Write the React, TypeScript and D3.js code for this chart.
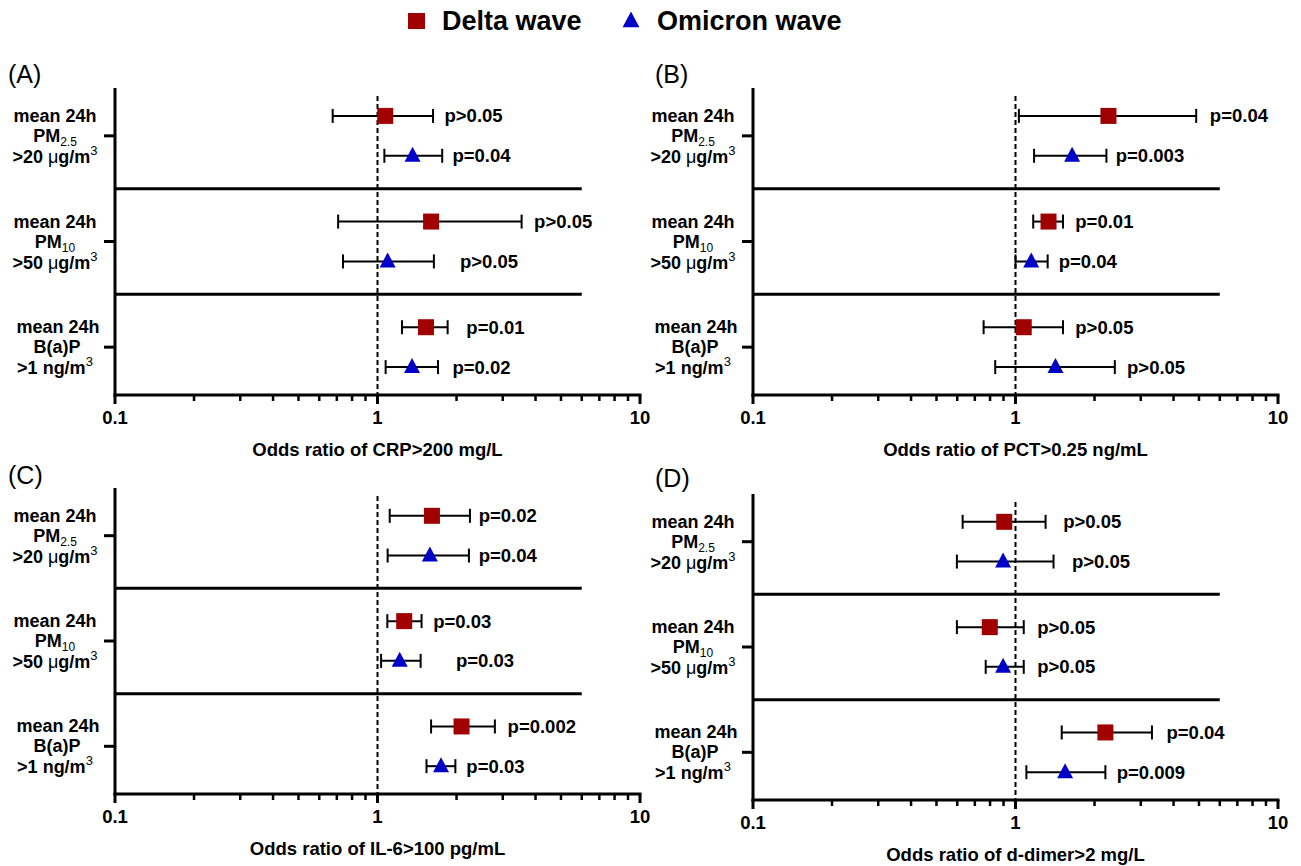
import React from "react";
import * as d3 from "d3";

// ---------- data ----------
const panelLetters = ["(A)", "(B)", "(C)", "(D)"];
const axisTitles = [
  "Odds ratio of CRP>200 mg/L",
  "Odds ratio of PCT>0.25 ng/mL",
  "Odds ratio of IL-6>100 pg/mL",
  "Odds ratio of d-dimer>2 mg/L",
];
const seriesNames = ["Delta wave", "Omicron wave"];
const xTickValues = [0.1, 1, 10];
const xTickLabels = ["0.1", "1", "10"];
const xMinorTicks = [0.2, 0.3, 0.4, 0.5, 0.6, 0.7, 0.8, 0.9, 2, 3, 4, 5, 6, 7, 8, 9];
const dividerEnd = 6;

// per panel, per exposure group (PM2.5, PM10, B(a)P)
const deltaOR = [[1.07, 1.6, 1.53], [2.26, 1.336, 1.075], [1.612, 1.264, 2.09], [0.906, 0.798, 2.2]];
const deltaLo = [[0.675, 0.708, 1.24], [1.03, 1.168, 0.756], [1.113, 1.09, 1.6], [0.629, 0.598, 1.5]];
const deltaHi = [[1.628, 3.54, 1.85], [4.88, 1.517, 1.517], [2.25, 1.472, 2.8], [1.302, 1.075, 3.31]];
const deltaP = [
  ["p>0.05", "p>0.05", "p=0.01"],
  ["p=0.04", "p=0.01", "p>0.05"],
  ["p=0.02", "p=0.03", "p=0.002"],
  ["p>0.05", "p>0.05", "p=0.04"],
];
const deltaPAt = [[1.8, 3.95, 2.18], [5.5, 1.69, 1.69], [2.43, 1.63, 3.13], [1.52, 1.21, 3.76]];

const omicronOR = [[1.36, 1.093, 1.354], [1.643, 1.148, 1.42], [1.583, 1.215, 1.746], [0.897, 0.897, 1.545]];
const omicronLo = [[1.062, 0.739, 1.074], [1.177, 1.0, 0.837], [1.093, 1.032, 1.537], [0.598, 0.77, 1.1]];
const omicronHi = [[1.764, 1.64, 1.7], [2.22, 1.326, 2.39], [2.23, 1.46, 1.98], [1.396, 1.075, 2.2]];
const omicronP = [
  ["p=0.04", "p>0.05", "p=0.02"],
  ["p=0.003", "p=0.04", "p>0.05"],
  ["p=0.04", "p=0.03", "p=0.03"],
  ["p>0.05", "p>0.05", "p=0.009"],
];
const omicronPAt = [[1.93, 2.06, 1.93], [2.41, 1.46, 2.66], [2.43, 1.99, 2.18], [1.64, 1.21, 2.43]];

// ---------- layout ----------
const W = 1301;
const H = 866;
const FONT = "'Liberation Sans', Arial, Helvetica, sans-serif";
const RED = "#a00000";
const BLUE = "#0000c8";
const panelBoxes = [
  { x0: 115, top: 88, bottom: 395, labelY: 83 },
  { x0: 753, top: 88, bottom: 395, labelY: 83 },
  { x0: 115, top: 488, bottom: 794, labelY: 484 },
  { x0: 753, top: 494, bottom: 800, labelY: 487 },
];
const AXIS_W = 525;
const GROUP_STEP = 2.65;
const TRI = "M0,-9L8,6L-8,6Z";

function GroupLabel({ g, cx, cy }: { g: number; cx: number; cy: number }) {
  const common = { textAnchor: "middle" as const, fontFamily: FONT, fontSize: 18, fontWeight: 700, fill: "#000" };
  const l1 = cy - 14;
  const l2 = cy + 6;
  const l3 = cy + 27;
  let line2: React.ReactNode;
  let line3: React.ReactNode;
  if (g === 0 || g === 1) {
    line2 = (
      <text x={cx} y={l2} {...common}>
        PM<tspan fontSize={12} fontWeight={400} dy={4}>{g === 0 ? "2.5" : "10"}</tspan>
      </text>
    );
    line3 = (
      <text x={cx} y={l3} {...common}>
        {g === 0 ? ">20 " : ">50 "}
        <tspan fontWeight={400}>μ</tspan>g/m<tspan fontSize={13} fontWeight={400} dy={-8}>3</tspan>
      </text>
    );
  } else {
    line2 = (
      <text x={cx + 2} y={l2} {...common}>
        B(a)P
      </text>
    );
    line3 = (
      <text x={cx} y={l3} {...common}>
        {">1 ng/m"}
        <tspan fontSize={13} fontWeight={400} dy={-8}>3</tspan>
      </text>
    );
  }
  return (
    <g>
      <text x={cx + (g === 2 ? 3 : 0)} y={l1} {...common}>
        mean 24h
      </text>
      {line2}
      {line3}
    </g>
  );
}

function Panel({ i }: { i: number }) {
  const b = panelBoxes[i];
  const x = d3.scaleLog().domain([0.1, 10]).range([b.x0, b.x0 + AXIS_W]);
  const y = d3.scaleLinear().domain([-0.7, 7.0]).range([b.top, b.bottom]);
  const groups = [0, 1, 2];
  const series = [
    { or: deltaOR[i], lo: deltaLo[i], hi: deltaHi[i], p: deltaP[i], at: deltaPAt[i], off: 0, color: RED, shape: "square" },
    { or: omicronOR[i], lo: omicronLo[i], hi: omicronHi[i], p: omicronP[i], at: omicronPAt[i], off: 1, color: BLUE, shape: "tri" },
  ];
  return (
    <g>
      <text x={i % 2 === 0 ? 8 : 655} y={b.labelY} fontFamily={FONT} fontSize={25} fill="#000">
        {panelLetters[i]}
      </text>
      {/* dashed reference line at OR = 1 */}
      <line x1={x(1)} x2={x(1)} y1={b.top + 8} y2={b.bottom} stroke="#000" strokeWidth={2} strokeDasharray="5,3" />
      {/* dividers */}
      {[0, 1].map((g) => (
        <line
          key={g}
          x1={b.x0}
          x2={x(dividerEnd)}
          y1={y(g * GROUP_STEP + 1.825)}
          y2={y(g * GROUP_STEP + 1.825)}
          stroke="#000"
          strokeWidth={3}
        />
      ))}
      {/* y axis */}
      <line x1={b.x0} x2={b.x0} y1={b.top} y2={b.bottom + 1.5} stroke="#000" strokeWidth={3} />
      {groups.map((g) => (
        <g key={g}>
          <line
            x1={b.x0 - 11}
            x2={b.x0}
            y1={y(g * GROUP_STEP + 0.5)}
            y2={y(g * GROUP_STEP + 0.5)}
            stroke="#000"
            strokeWidth={3}
          />
          <GroupLabel g={g} cx={b.x0 - 60} cy={y(g * GROUP_STEP + 0.5)} />
        </g>
      ))}
      {/* x axis */}
      <line x1={b.x0 - 1.5} x2={b.x0 + AXIS_W + 1.5} y1={b.bottom} y2={b.bottom} stroke="#000" strokeWidth={3} />
      {xTickValues.map((v, k) => (
        <g key={v}>
          <line x1={x(v)} x2={x(v)} y1={b.bottom} y2={b.bottom + 9} stroke="#000" strokeWidth={3} />
          <text
            x={x(v)}
            y={b.bottom + 29}
            textAnchor="middle"
            fontFamily={FONT}
            fontSize={18.5}
            fontWeight={700}
          >
            {xTickLabels[k]}
          </text>
        </g>
      ))}
      {xMinorTicks.map((v) => (
        <line key={v} x1={x(v)} x2={x(v)} y1={b.bottom} y2={b.bottom + 6} stroke="#000" strokeWidth={2.5} />
      ))}
      <text
        x={x(1)}
        y={b.bottom + 61}
        textAnchor="middle"
        fontFamily={FONT}
        fontSize={18.5}
        fontWeight={700}
      >
        {axisTitles[i]}
      </text>
      {/* data */}
      {series.map((s, si) =>
        groups.map((g) => {
          const yy = y(g * GROUP_STEP + s.off);
          const xl = x(s.lo[g]);
          const xh = x(s.hi[g]);
          const xc = x(s.or[g]);
          return (
            <g key={si + "-" + g}>
              <line x1={xl} x2={xh} y1={yy} y2={yy} stroke="#000" strokeWidth={2} />
              <line x1={xl} x2={xl} y1={yy - 7} y2={yy + 7} stroke="#000" strokeWidth={2} />
              <line x1={xh} x2={xh} y1={yy - 7} y2={yy + 7} stroke="#000" strokeWidth={2} />
              {s.shape === "square" ? (
                <rect x={xc - 8} y={yy - 8} width={16} height={16} fill={s.color} />
              ) : (
                <path d={TRI} transform={`translate(${xc},${yy})`} fill={s.color} />
              )}
              <text
                x={x(s.at[g])}
                y={yy + 6.5}
                fontFamily={FONT}
                fontSize={18.5}
                fontWeight={700}
              >
                {s.p[g]}
              </text>
            </g>
          );
        })
      )}
    </g>
  );
}

export default function App() {
  return (
    <svg
      width={W}
      height={H}
      viewBox={`0 0 ${W} ${H}`}
      style={{ position: "absolute", left: 0, top: 0, background: "#fff" }}
    >
      <rect x={0} y={0} width={W} height={H} fill="#fff" />
      {/* legend */}
      <rect x={408} y={13} width={17} height={16} fill={RED} />
      <text x={442} y={30} fontFamily={FONT} fontSize={27} fontWeight={700}>
        {seriesNames[0]}
      </text>
      <path d={TRI} transform="translate(631,21) scale(1.05)" fill={BLUE} />
      <text x={657} y={30} fontFamily={FONT} fontSize={27} fontWeight={700}>
        {seriesNames[1]}
      </text>
      {[0, 1, 2, 3].map((i) => (
        <Panel key={i} i={i} />
      ))}
    </svg>
  );
}
